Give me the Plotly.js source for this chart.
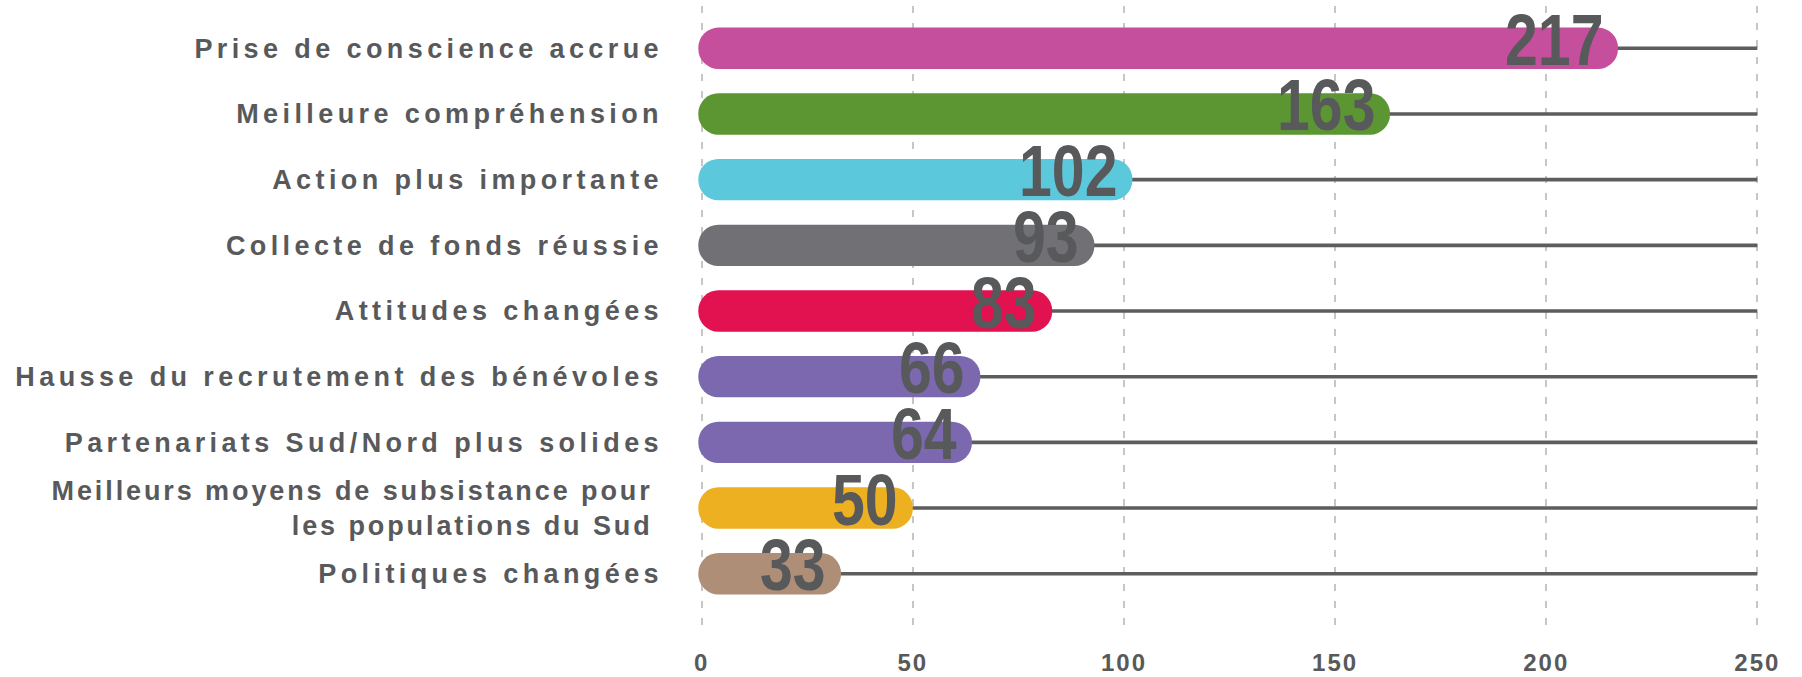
<!DOCTYPE html>
<html>
<head>
<meta charset="utf-8">
<script src="https://cdn.plot.ly/plotly-3.0.1.min.js"></script>
<style>
  html, body { margin: 0; padding: 0; background: #ffffff; }
  #chart { width: 1802px; height: 677px; }
  .ytick text { letter-spacing: 4.4px; }
  .ytick text tspan.line { letter-spacing: 2.9px; }
  .xtick text { letter-spacing: 2px; }
  text.annotation-text {
    transform-box: fill-box;
    transform-origin: 100% 50%;
    transform: scaleX(0.82);
  }
</style>
</head>
<body>
<div id="chart"></div>
<script>
// ---- data ----
const categories = [
  "Prise de conscience accrue",
  "Meilleure compréhension",
  "Action plus importante",
  "Collecte de fonds réussie",
  "Attitudes changées",
  "Hausse du recrutement des bénévoles",
  "Partenariats Sud/Nord plus solides",
  "Meilleurs moyens de subsistance pour\u00a0<br>les populations du Sud\u00a0",
  "Politiques changées"
];
const values = [217, 163, 102, 93, 83, 66, 64, 50, 33];
const barColors = ["#C54F9C", "#5C9632", "#5BC8DB", "#717074", "#E2114F", "#7B68AE", "#7B68AE", "#EDB021", "#AE8E76"];
const tickValues = [0, 50, 100, 150, 200, 250];
const tickLabels = ["0", "50", "100", "150", "200", "250"];

// ---- style constants ----
const AXIS_MAX = 250;
const LEFT_EDGE = -0.8;      // where the rounded bars begin (axis units)
const BAR_WIDTH = 0.63;      // bar thickness in category units
const TEXT_COLOR = "#58595b";

const track = {
  type: "bar", orientation: "h",
  y: categories, x: values.map(() => AXIS_MAX), base: 0,
  width: 0.055,
  marker: { color: "#5d5d5f", line: { width: 0 } },
  hoverinfo: "skip"
};

const bars = {
  type: "bar", orientation: "h",
  y: categories,
  base: LEFT_EDGE,
  x: values.map(v => v - LEFT_EDGE),
  width: BAR_WIDTH,
  marker: { color: barColors, line: { width: 0 }, cornerradius: "50%" },
  hoverinfo: "skip"
};

const annotations = values.map((v, i) => ({
  x: v, y: categories[i], xref: "x", yref: "y",
  text: String(v), showarrow: false,
  xanchor: "right", yanchor: "middle",
  xshift: -13, yshift: 9,
  font: { family: "Liberation Sans, Arial, sans-serif", size: 72, weight: 700, color: TEXT_COLOR }
}));

const layout = {
  width: 1802, height: 677,
  margin: { l: 689, r: 32, t: 6, b: 47, pad: 0 },
  paper_bgcolor: "#ffffff", plot_bgcolor: "#ffffff",
  showlegend: false,
  barmode: "overlay",
  xaxis: {
    range: [-3.008, 253.0],
    tickmode: "array", tickvals: tickValues, ticktext: tickLabels,
    showgrid: true, gridcolor: "#c6c6c6", gridwidth: 2, griddash: "7px,10px",
    zeroline: false, showline: false, ticks: "",
    ticklabelstandoff: 16,
    tickfont: { family: "Liberation Sans, Arial, sans-serif", size: 24, weight: 700, color: TEXT_COLOR },
    fixedrange: true
  },
  yaxis: {
    type: "category", categoryorder: "array", categoryarray: categories,
    range: [8.857, -0.644],
    showgrid: false, zeroline: false, showline: false, ticks: "",
    ticklabelstandoff: 25,
    tickfont: { family: "Liberation Sans, Arial, sans-serif", size: 27, weight: 700, color: TEXT_COLOR },
    fixedrange: true
  },
  annotations: annotations
};

Plotly.newPlot("chart", [track, bars], layout, { displayModeBar: false, staticPlot: true });
</script>
</body>
</html>
